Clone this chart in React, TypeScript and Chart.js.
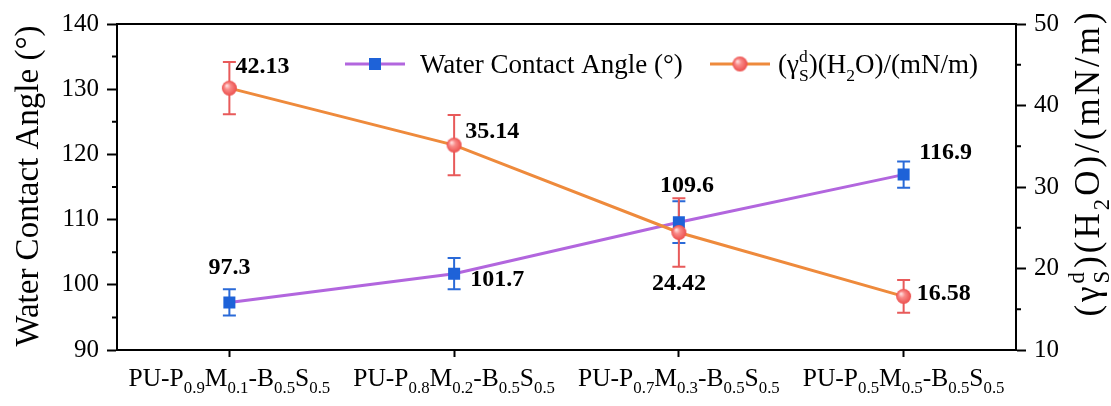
import React, { useEffect, useRef } from 'react';
import { Chart, registerables } from 'chart.js';

Chart.register(...registerables);

// ---------------- data ----------------
const categories = [
  'PU-P_{0.9}M_{0.1}-B_{0.5}S_{0.5}',
  'PU-P_{0.8}M_{0.2}-B_{0.5}S_{0.5}',
  'PU-P_{0.7}M_{0.3}-B_{0.5}S_{0.5}',
  'PU-P_{0.5}M_{0.5}-B_{0.5}S_{0.5}',
];
const contactAngle = [97.3, 101.7, 109.6, 116.9];
const contactAngleErr = [2.0, 2.4, 3.2, 2.0];
const surfaceEnergy = [42.13, 35.14, 24.42, 16.58];
const surfaceEnergyErr = [3.2, 3.7, 4.2, 2.0];
const contactAngleLabels = ['97.3', '101.7', '109.6', '116.9'];
const surfaceEnergyLabels = ['42.13', '35.14', '24.42', '16.58'];
const leftAxisRange = [90, 140, 10];
const rightAxisRange = [10, 50, 10];
const leftTitle = 'Water Contact Angle (°)';
const rightTitle = '(γ^{d}_{S})(H_{2}O)/(mN/m)';
const legendLabels = ['Water Contact Angle (°)', '(γ^{d}_{S})(H_{2}O)/(mN/m)'];

// label offsets (style)
const angleLabelOffsets = [[0, -35], [43, 6], [8, -36], [42, -22]];
const energyLabelOffsets = [[33, -21], [38, -13], [0, 51], [40, -3]];

const SERIF = '"Liberation Serif", "Times New Roman", serif';
const PURPLE = '#B266DE';
const ORANGE = '#EE8A3C';
const BLUE = '#1E62D8';

type Seg = { t: string; k: 'n' | 'sub' | 'sup' };
function parseRich(s: string): Seg[] {
  const out: Seg[] = [];
  const re = /([_^])\{([^}]*)\}|([^_^]+)/g;
  let m: RegExpExecArray | null;
  while ((m = re.exec(s))) {
    if (m[3]) out.push({ t: m[3], k: 'n' });
    else out.push({ t: m[2], k: m[1] === '_' ? 'sub' : 'sup' });
  }
  return out;
}

function layoutRich(ctx: CanvasRenderingContext2D, s: string, size: number, ratio = 0.65) {
  const segs = parseRich(s);
  const small = size * ratio;
  const items: { t: string; x: number; dy: number; f: string }[] = [];
  let x = 0;
  let i = 0;
  while (i < segs.length) {
    const sg = segs[i];
    if (sg.k === 'n') {
      const f = `${size}px ${SERIF}`;
      ctx.font = f;
      items.push({ t: sg.t, x, dy: 0, f });
      x += ctx.measureText(sg.t).width;
      i++;
    } else {
      const f = `${small}px ${SERIF}`;
      ctx.font = f;
      const group = [sg];
      if (i + 1 < segs.length && segs[i + 1].k !== 'n' && segs[i + 1].k !== sg.k) group.push(segs[i + 1]);
      let w = 0;
      for (const g of group) {
        items.push({ t: g.t, x, dy: g.k === 'sub' ? size * 0.28 : -size * 0.42, f });
        w = Math.max(w, ctx.measureText(g.t).width);
      }
      x += w;
      i += group.length;
    }
  }
  return { items, width: x };
}

function drawRich(ctx: CanvasRenderingContext2D, s: string, x: number, y: number, size: number, align: 'left' | 'center' = 'center', ratio = 0.65) {
  const { items, width } = layoutRich(ctx, s, size, ratio);
  const x0 = align === 'center' ? x - width / 2 : x;
  ctx.textAlign = 'left';
  ctx.textBaseline = 'alphabetic';
  for (const it of items) {
    ctx.font = it.f;
    ctx.fillText(it.t, x0 + it.x, y + it.dy);
  }
  return width;
}

function makeSphere(r: number) {
  const c = document.createElement('canvas');
  const s = Math.ceil(r * 2 + 2);
  c.width = s;
  c.height = s;
  const g = c.getContext('2d')!;
  const cx = s / 2;
  const grad = g.createRadialGradient(cx - r * 0.35, cx - r * 0.35, r * 0.1, cx, cx, r);
  grad.addColorStop(0, '#FFD6D6');
  grad.addColorStop(0.35, '#F98A88');
  grad.addColorStop(1, '#EC4E4C');
  g.fillStyle = grad;
  g.beginPath();
  g.arc(cx, cx, r, 0, Math.PI * 2);
  g.fill();
  return c;
}

export default function App() {
  const ref = useRef<HTMLCanvasElement | null>(null);

  useEffect(() => {
    document.body.style.margin = '0';
    const canvas = ref.current!;
    const sphere = makeSphere(7.5);

    const errorBars = {
      id: 'errorBars',
      beforeDatasetsDraw(chart: any) {
        const ctx = chart.ctx;
        const x = chart.scales.x;
        const sets = [
          { vals: contactAngle, errs: contactAngleErr, axis: chart.scales.y, color: '#2A6AD8' },
          { vals: surfaceEnergy, errs: surfaceEnergyErr, axis: chart.scales.y1, color: '#E85A5A' },
        ];
        ctx.save();
        ctx.lineWidth = 2;
        for (const s of sets) {
          ctx.strokeStyle = s.color;
          s.vals.forEach((v, i) => {
            const px = x.getPixelForValue(i);
            const top = s.axis.getPixelForValue(v + s.errs[i]);
            const bot = s.axis.getPixelForValue(v - s.errs[i]);
            ctx.beginPath();
            ctx.moveTo(px, top);
            ctx.lineTo(px, bot);
            ctx.moveTo(px - 6.5, top);
            ctx.lineTo(px + 6.5, top);
            ctx.moveTo(px - 6.5, bot);
            ctx.lineTo(px + 6.5, bot);
            ctx.stroke();
          });
        }
        ctx.restore();
      },
    };

    const decorations = {
      id: 'decorations',
      afterDraw(chart: any) {
        const ctx = chart.ctx;
        const { left, right, top, bottom } = chart.chartArea;
        const x = chart.scales.x;
        const y = chart.scales.y;
        const y1 = chart.scales.y1;
        ctx.save();
        // top frame
        ctx.strokeStyle = '#000';
        ctx.lineWidth = 2;
        ctx.beginPath();
        ctx.moveTo(left - 1, top);
        ctx.lineTo(right + 1, top);
        ctx.stroke();
        // minor ticks
        ctx.beginPath();
        for (let v = leftAxisRange[0] + leftAxisRange[2] / 2; v < leftAxisRange[1]; v += leftAxisRange[2]) {
          const py = y.getPixelForValue(v);
          ctx.moveTo(left - 5, py);
          ctx.lineTo(left, py);
        }
        for (let v = rightAxisRange[0] + rightAxisRange[2] / 2; v < rightAxisRange[1]; v += rightAxisRange[2]) {
          const py = y1.getPixelForValue(v);
          ctx.moveTo(right, py);
          ctx.lineTo(right + 5, py);
        }
        ctx.stroke();

        ctx.fillStyle = '#000';
        // x category labels
        categories.forEach((c, i) => {
          drawRich(ctx, c, x.getPixelForValue(i), bottom + 36, 25.5, 'center', 0.66);
        });

        // left title
        ctx.save();
        ctx.translate(27, 186);
        ctx.rotate(-Math.PI / 2);
        drawRich(ctx, leftTitle, 0, 11, 33);
        ctx.restore();

        // right title
        ctx.save();
        ctx.translate(1088, 163);
        ctx.rotate(-Math.PI / 2);
        (ctx as any).letterSpacing = '3px';
        drawRich(ctx, rightTitle, 0, 11, 35);
        (ctx as any).letterSpacing = '0px';
        ctx.restore();

        // data labels
        ctx.font = `bold 24px ${SERIF}`;
        ctx.textAlign = 'center';
        ctx.textBaseline = 'middle';
        contactAngle.forEach((v, i) => {
          const px = x.getPixelForValue(i) + angleLabelOffsets[i][0];
          const py = y.getPixelForValue(v) + angleLabelOffsets[i][1];
          ctx.fillText(contactAngleLabels[i], px, py);
        });
        surfaceEnergy.forEach((v, i) => {
          const px = x.getPixelForValue(i) + energyLabelOffsets[i][0];
          const py = y1.getPixelForValue(v) + energyLabelOffsets[i][1];
          ctx.fillText(surfaceEnergyLabels[i], px, py);
        });

        // legend
        const ly = 64;
        ctx.lineWidth = 3;
        ctx.strokeStyle = PURPLE;
        ctx.beginPath();
        ctx.moveTo(345, ly);
        ctx.lineTo(405, ly);
        ctx.stroke();
        ctx.fillStyle = BLUE;
        ctx.fillRect(369, ly - 6, 12, 12);
        ctx.strokeStyle = ORANGE;
        ctx.beginPath();
        ctx.moveTo(710, ly);
        ctx.lineTo(770, ly);
        ctx.stroke();
        ctx.drawImage(sphere, 740 - sphere.width / 2, ly - sphere.height / 2);
        ctx.fillStyle = '#000';
        drawRich(ctx, legendLabels[0], 420, ly + 9, 27, 'left');
        drawRich(ctx, legendLabels[1], 778, ly + 9, 27, 'left');
        ctx.restore();
      },
    };

    const chart = new Chart(canvas, {
      type: 'line',
      data: {
        labels: categories,
        datasets: [
          {
            label: 'Water Contact Angle (°)',
            data: contactAngle,
            yAxisID: 'y',
            borderColor: PURPLE,
            borderWidth: 3,
            backgroundColor: BLUE,
            pointStyle: 'rect',
            pointRadius: 8.5,
            pointBorderWidth: 0,
            pointBackgroundColor: BLUE,
            order: 2,
          },
          {
            label: '(γSd)(H2O)/(mN/m)',
            data: surfaceEnergy,
            yAxisID: 'y1',
            borderColor: ORANGE,
            borderWidth: 3,
            pointStyle: sphere as any,
            pointRadius: 7.5,
            order: 1,
          },
        ],
      },
      options: {
        animation: false,
        responsive: false,
        devicePixelRatio: 1,
        layout: { padding: { top: 24, left: 0, right: 0, bottom: 0 } },
        plugins: {
          legend: { display: false },
          tooltip: { enabled: false },
        },
        scales: {
          x: {
            type: 'category',
            offset: true,
            grid: { display: true, offset: false, drawOnChartArea: false, drawTicks: true, tickLength: 7, tickWidth: 2, tickColor: '#000' },
            border: { display: true, color: '#000', width: 2 },
            ticks: { display: false },
            afterFit: (s: any) => { s.height = 56; },
          },
          y: {
            position: 'left',
            min: leftAxisRange[0],
            max: leftAxisRange[1],
            grid: { display: true, drawOnChartArea: false, drawTicks: true, tickLength: 10, tickWidth: 2, tickColor: '#000' },
            border: { display: true, color: '#000', width: 2 },
            ticks: { stepSize: leftAxisRange[2], color: '#000', font: { family: SERIF, size: 25 }, padding: 8 },
            afterFit: (s: any) => { s.width = 117; },
          },
          y1: {
            position: 'right',
            min: rightAxisRange[0],
            max: rightAxisRange[1],
            grid: { display: true, drawOnChartArea: false, drawTicks: true, tickLength: 10, tickWidth: 2, tickColor: '#000' },
            border: { display: true, color: '#000', width: 2 },
            ticks: { stepSize: rightAxisRange[2], color: '#000', font: { family: SERIF, size: 25 }, padding: 8 },
            afterFit: (s: any) => { s.width = 95; },
          },
        },
      },
      plugins: [errorBars, decorations],
    });
    return () => chart.destroy();
  }, []);

  return (
    <div style={{ width: 1111, height: 406, background: '#fff' }}>
      <canvas ref={ref} width={1111} height={406} style={{ display: 'block' }} />
    </div>
  );
}
